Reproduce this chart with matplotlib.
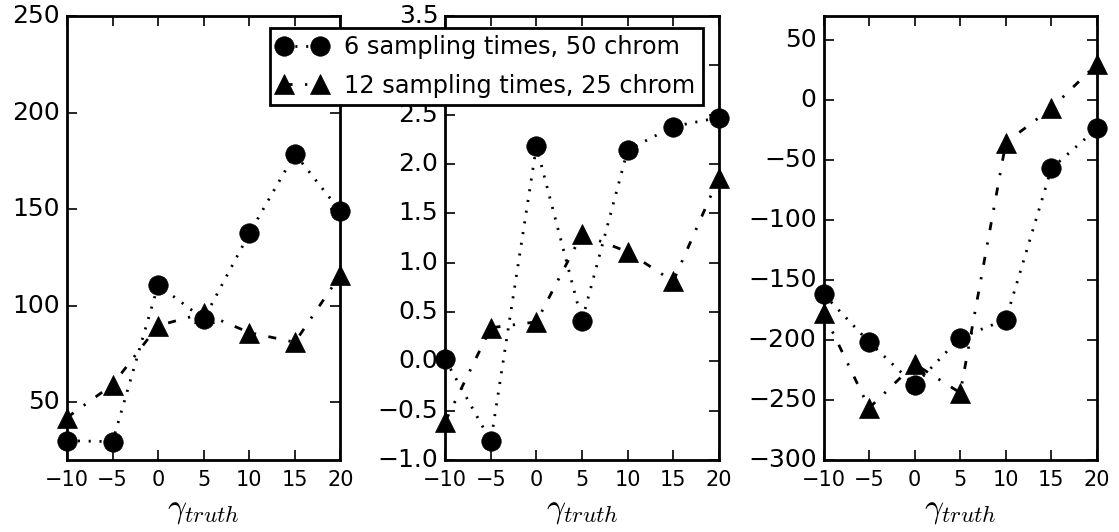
import matplotlib
matplotlib.use("Agg")
import matplotlib.pyplot as plt

plt.style.use("classic")
plt.rcParams["font.family"] = ["DejaVu Sans"]
plt.rcParams["mathtext.fontset"] = "cm"
plt.rcParams["lines.scale_dashes"] = False

gamma = [-10, -5, 0, 5, 10, 15, 20]

# panel 1
p1_six = [30, 29.5, 110.7, 93, 137.4, 178.6, 148.8]
p1_twelve = [42, 59, 89.6, 96, 86, 81, 116]
# panel 2
p2_six = [0.02, -0.81, 2.18, 0.41, 2.14, 2.38, 2.47]
p2_twelve = [-0.61, 0.34, 0.40, 1.29, 1.11, 0.81, 1.86]
# panel 3
p3_six = [-161.7, -201.7, -237.5, -198, -183, -57, -23.7]
p3_twelve = [-177.5, -256.7, -220, -244, -35.5, -6.8, 30]

label_six = "6 sampling times, 50 chrom"
label_twelve = "12 sampling times, 25 chrom"

ylims = [(20, 250), (-1.0, 3.5), (-300, 70)]
yticks = [[50, 100, 150, 200, 250],
          [-1.0, -0.5, 0.0, 0.5, 1.0, 1.5, 2.0, 2.5, 3.0, 3.5],
          [-300, -250, -200, -150, -100, -50, 0, 50]]

fig, axes = plt.subplots(1, 3, figsize=(11.19, 5.32), dpi=100)
fig.patch.set_facecolor("white")
fig.subplots_adjust(left=67/1119, right=1097/1119, top=1-16/532,
                    bottom=1-460/532, wspace=0.383)

dotted = (0, (1.5, 6.3))
dashdot = (0, (5.8, 9.0, 1.6, 9.0))

data = [(p1_six, p1_twelve), (p2_six, p2_twelve), (p3_six, p3_twelve)]
handles = None
for ax, (six, twelve), yl, yt in zip(axes, data, ylims, yticks):
    h1, = ax.plot(gamma, six, color="black", linestyle=dotted, linewidth=2,
                  marker="o", markersize=14, markeredgecolor="black",
                  markerfacecolor="black", clip_on=False)
    h2, = ax.plot(gamma, twelve, color="black", linestyle=dashdot, linewidth=2,
                  marker="^", markersize=14, markeredgecolor="black",
                  markerfacecolor="black", clip_on=False)
    handles = (h1, h2)
    ax.set_xlim(-10, 20)
    ax.set_ylim(*yl)
    ax.set_xticks(gamma)
    ax.set_yticks(yt)
    if yl == (-1.0, 3.5):
        ax.set_yticklabels(["%.1f" % v if v >= 0 else "\u2212%.1f" % (-v) for v in yt])
    ax.tick_params(direction="in", length=7, width=1.2, top=True, right=True)
    ax.tick_params(axis="y", labelsize=18, pad=5)
    ax.tick_params(axis="x", labelsize=15, pad=7)
    for s in ax.spines.values():
        s.set_linewidth(2)
    ax.set_xlabel(r"$\gamma_{truth}$", fontsize=24, labelpad=2)

leg = fig.legend(handles, [label_six, label_twelve], loc="upper left",
                 bbox_to_anchor=(270/1119, 1-28/532), numpoints=2,
                 handlelength=2.1, handletextpad=0.7, fontsize=17.3,
                 borderpad=0.3, labelspacing=0.6, borderaxespad=0,
                 fancybox=False, framealpha=1)
leg.get_frame().set_linewidth(2)
leg.get_frame().set_edgecolor("black")

fig.savefig("out.png", dpi=100, facecolor="white")
